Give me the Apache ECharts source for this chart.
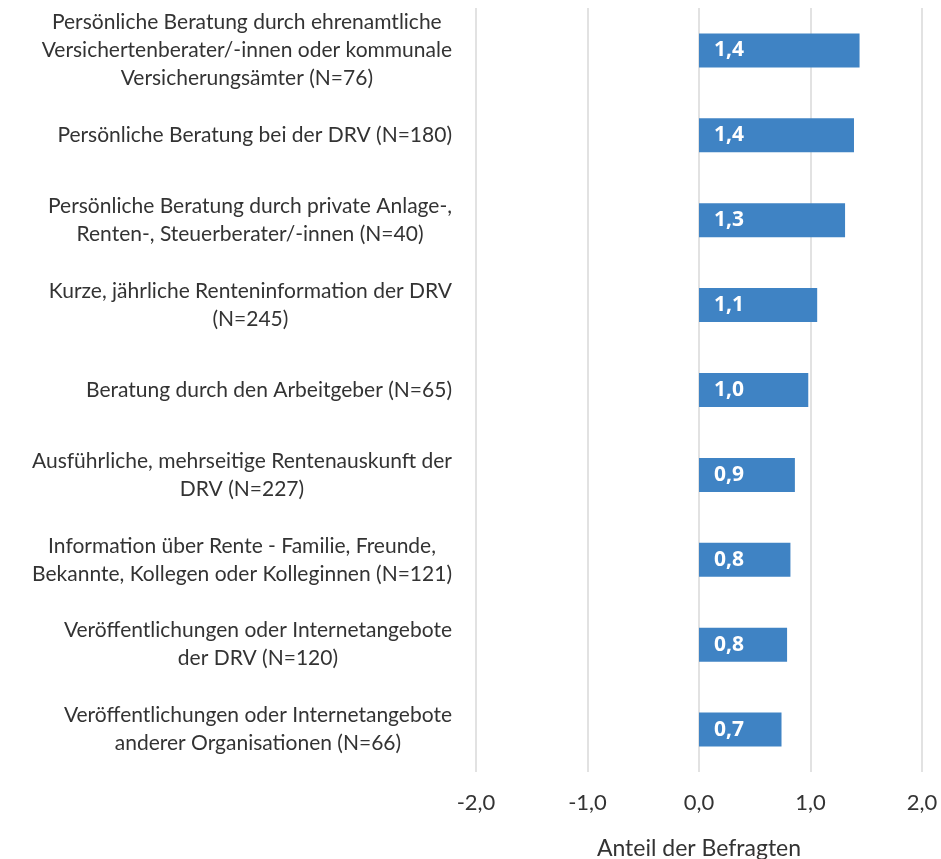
<!DOCTYPE html>
<html>
<head>
<meta charset="utf-8">
<script src="https://cdn.jsdelivr.net/npm/echarts@6/dist/echarts.min.js"></script>
<style>
  html, body { margin: 0; padding: 0; background: #fff; }
  #chart { width: 941px; height: 859px; }
</style>
</head>
<body>
<div id="chart"></div>
<script>
// categories, top to bottom
var categories = [
  'Persönliche Beratung durch ehrenamtliche\nVersichertenberater/-innen oder kommunale\nVersicherungsämter (N=76)',
  'Persönliche Beratung bei der DRV (N=180)',
  'Persönliche Beratung durch private Anlage-,\nRenten-, Steuerberater/-innen (N=40)',
  'Kurze, jährliche Renteninformation der DRV\n(N=245)',
  'Beratung durch den Arbeitgeber (N=65)',
  'Ausführliche, mehrseitige Rentenauskunft der\nDRV (N=227)',
  'Information über Rente - Familie, Freunde,\nBekannte, Kollegen oder Kolleginnen (N=121)',
  'Veröffentlichungen oder Internetangebote\nder DRV (N=120)',
  'Veröffentlichungen oder Internetangebote\nanderer Organisationen (N=66)'
];
var values = [1.44, 1.39, 1.31, 1.06, 0.98, 0.86, 0.82, 0.79, 0.74];
var xTicks = [-2, -1, 0, 1, 2];
var axisTitle = 'Anteil der Befragten';

function fmt(v) {
  return v.toFixed(1).replace('.', ',');
}

var font = 'Lato, "Open Sans", sans-serif';
var textColor = '#333333';
var chart = echarts.init(document.getElementById('chart'));

var option = {
  backgroundColor: '#fff',
  animation: false,
  grid: { left: 476, right: 19, top: 8, bottom: 87, containLabel: false, outerBoundsMode: 'none' },
  xAxis: {
    type: 'value',
    min: xTicks[0],
    max: xTicks[xTicks.length - 1],
    interval: 1,
    axisLine: { show: false },
    axisTick: { show: false },
    splitLine: { lineStyle: { color: '#d9d9d9', width: 1.5 } },
    axisLabel: {
      formatter: fmt,
      fontFamily: font,
      fontSize: 22,
      color: textColor,
      margin: 20
    },
    name: axisTitle,
    nameLocation: 'middle',
    nameGap: 65,
    nameTextStyle: { fontFamily: font, fontSize: 23, color: textColor }
  },
  yAxis: {
    type: 'category',
    data: categories,
    inverse: true,
    axisLine: { show: false },
    axisTick: { show: false },
    axisLabel: {
      margin: 24,
      formatter: function (v) {
        return v.split('\n').map(function (l) { return '{c|' + l + '}'; }).join('\n');
      },
      rich: {
        c: { align: 'center', fontFamily: font, fontSize: 21, color: textColor, lineHeight: 28 }
      }
    }
  },
  series: [{
    type: 'bar',
    data: values,
    barWidth: 34,
    itemStyle: { color: '#3f83c4' },
    label: {
      show: true,
      position: 'insideLeft',
      distance: 15,
      formatter: function (p) { return fmt(p.value); },
      fontFamily: '"Open Sans", sans-serif',
      fontWeight: 'bold',
      fontSize: 21,
      color: '#fff'
    }
  }]
};

chart.setOption(option);
</script>
</body>
</html>
